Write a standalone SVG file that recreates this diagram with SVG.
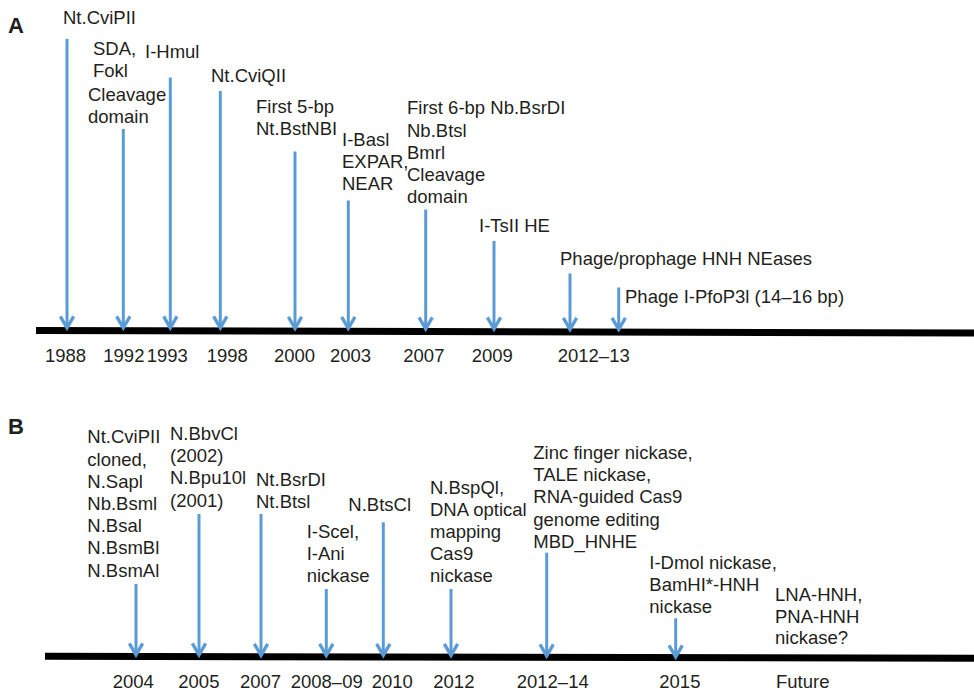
<svg xmlns="http://www.w3.org/2000/svg" width="974" height="691" viewBox="0 0 974 691">
<style>
text{font-family:"Liberation Sans",Arial,sans-serif;font-size:18.5px;fill:#231f20}
.pl{font-size:22px;font-weight:bold}
.ar{stroke:#5b9bd5;stroke-width:3;fill:none}
.bar{stroke:#000;stroke-width:7;fill:none}
</style>
<defs>
<marker id="ah" markerUnits="userSpaceOnUse" orient="auto" refX="0" refY="0" markerWidth="20" markerHeight="20" viewBox="-14 -9 16 18" overflow="visible">
<path d="M-10.5,-6 L0,0 L-10.5,6" stroke="#5b9bd5" stroke-width="3" fill="none" stroke-linejoin="miter"/>
</marker>
</defs>
<rect width="974" height="691" fill="#fff"/>
<text class="pl" x="8" y="33">A</text>
<text class="pl" x="8" y="434">B</text>
<g id="connectors">
<line class="bar" x1="36" y1="330.5" x2="974" y2="333"/>
<line class="bar" x1="45" y1="656.3" x2="974" y2="658.3"/>
<g class="ar" marker-end="url(#ah)">
<line x1="67" y1="39" x2="67" y2="328"/>
<line x1="123.3" y1="129" x2="123.3" y2="328"/>
<line x1="170.3" y1="77.5" x2="170.3" y2="328"/>
<line x1="220.3" y1="91" x2="220.3" y2="328"/>
<line x1="295" y1="151.5" x2="295" y2="328.5"/>
<line x1="348.3" y1="200.5" x2="348.3" y2="328.5"/>
<line x1="425.7" y1="209.5" x2="425.7" y2="329"/>
<line x1="494" y1="241" x2="494" y2="329"/>
<line x1="570" y1="273.5" x2="570" y2="329.5"/>
<line x1="618.7" y1="287.5" x2="618.7" y2="329.5"/>
<line x1="136" y1="584" x2="136" y2="655"/>
<line x1="199" y1="514" x2="199" y2="655"/>
<line x1="261" y1="514" x2="261" y2="655.5"/>
<line x1="326.3" y1="589" x2="326.3" y2="655.5"/>
<line x1="383.3" y1="522.3" x2="383.3" y2="655.5"/>
<line x1="451" y1="589" x2="451" y2="655.5"/>
<line x1="546.7" y1="552.7" x2="546.7" y2="656"/>
<line x1="675.7" y1="618.3" x2="675.7" y2="657"/>
</g>
</g>
<g id="a1988"><text x="63" y="24">Nt.CviPII</text><text x="45" y="362">1988</text></g>
<g id="a1992"><text x="93" y="55">SDA,</text><text x="93" y="77">Fokl</text><text x="88" y="101">Cleavage</text><text x="88" y="123">domain</text><text x="103.3" y="362">1992</text></g>
<g id="a1993"><text x="145" y="57.5">I-Hmul</text><text x="146.7" y="362">1993</text></g>
<g id="a1998"><text x="211" y="82">Nt.CviQII</text><text x="206.7" y="362">1998</text></g>
<g id="a2000"><text x="256" y="113">First 5-bp</text><text x="256" y="135">Nt.BstNBI</text><text x="274" y="362">2000</text></g>
<g id="a2003"><text x="342" y="146">I-Basl</text><text x="342" y="168">EXPAR,</text><text x="342" y="190">NEAR</text><text x="330" y="362">2003</text></g>
<g id="a2007"><text x="407" y="114">First 6-bp Nb.BsrDI</text><text x="407" y="136.5">Nb.Btsl</text><text x="407" y="158.7">Bmrl</text><text x="407" y="180.9">Cleavage</text><text x="407" y="203">domain</text><text x="403.3" y="362">2007</text></g>
<g id="a2009"><text x="479" y="231.7">I-TsII HE</text><text x="471.7" y="362">2009</text></g>
<g id="a2012"><text x="560" y="265">Phage/prophage HNH NEases</text><text x="557.7" y="362">2012–13</text></g>
<g id="a2013"><text x="625" y="302.7">Phage I-PfoP3l (14–16 bp)</text></g>
<g id="b2004"><text x="87.3" y="443.3">Nt.CviPII</text><text x="87.3" y="465.5">cloned,</text><text x="87.3" y="487.7">N.Sapl</text><text x="87.3" y="509.9">Nb.Bsml</text><text x="87.3" y="532.1">N.Bsal</text><text x="87.3" y="554.3">N.BsmBl</text><text x="87.3" y="576.5">N.BsmAl</text><text x="112.7" y="688">2004</text></g>
<g id="b2005"><text x="170" y="440">N.BbvCl</text><text x="170" y="462.2">(2002)</text><text x="170" y="484.4">N.Bpu10l</text><text x="170" y="506.6">(2001)</text><text x="178.3" y="688">2005</text></g>
<g id="b2007"><text x="256" y="486">Nt.BsrDI</text><text x="256" y="508.2">Nt.Btsl</text><text x="240" y="688">2007</text></g>
<g id="b2008"><text x="306.7" y="537.7">I-Scel,</text><text x="306.7" y="559.9">I-Ani</text><text x="306.7" y="582.1">nickase</text><text x="290.7" y="688">2008–09</text></g>
<g id="b2010"><text x="348.3" y="511">N.BtsCl</text><text x="371.7" y="688">2010</text></g>
<g id="b2012"><text x="430" y="493.5">N.BspQl,</text><text x="430" y="515.7">DNA optical</text><text x="430" y="537.9">mapping</text><text x="430" y="560.1">Cas9</text><text x="430" y="582.3">nickase</text><text x="433.3" y="688">2012</text></g>
<g id="b2014"><text x="533.3" y="459">Zinc finger nickase,</text><text x="533.3" y="481.2">TALE nickase,</text><text x="533.3" y="503.4">RNA-guided Cas9</text><text x="533.3" y="525.6">genome editing</text><text x="533.3" y="547.8">MBD_HNHE</text><text x="516.7" y="688">2012–14</text></g>
<g id="b2015"><text x="649.3" y="568.5">I-Dmol nickase,</text><text x="649.3" y="590.7">BamHI*-HNH</text><text x="649.3" y="612.9">nickase</text><text x="659.3" y="688">2015</text></g>
<g id="bfuture"><text x="775" y="601">LNA-HNH,</text><text x="775" y="622.5">PNA-HNH</text><text x="775" y="644">nickase?</text><text x="776" y="688">Future</text></g>
</svg>
